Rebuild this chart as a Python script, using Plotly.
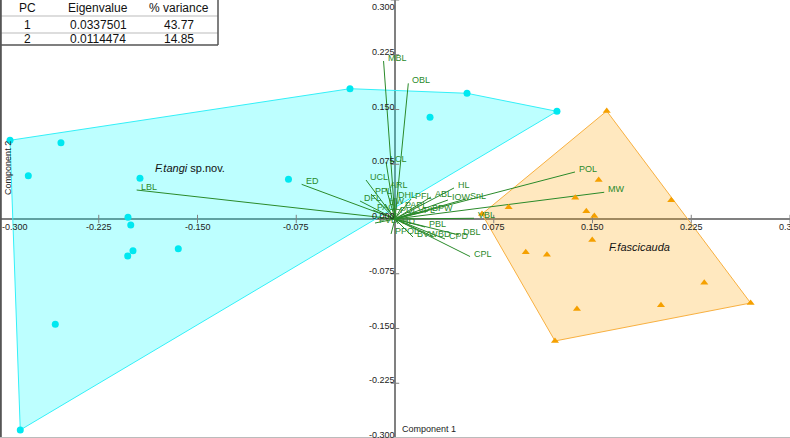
import plotly.graph_objects as go

W, H = 790, 438

# ---- eigenvalue table ----
table_header = ["PC", "Eigenvalue", "% variance"]
pc_rows = ["1", "2"]
eigenvalues = ["0.0337501", "0.0114474"]
pct_variance = ["43.77", "14.85"]

# ---- PCA scores ----
tangi_x = [-0.2924, -0.2537, -0.2785, -0.1937, -0.0809, -0.2028, -0.2007, -0.1990,
           -0.2030, -0.1646, -0.2580, -0.2846, -0.0342, 0.0547, 0.1230, 0.0266]
tangi_y = [0.1078, 0.1045, 0.0593, 0.0558, 0.0544, 0.0023, -0.0082, -0.0434,
           -0.0507, -0.0407, -0.1442, -0.2890, 0.1785, 0.1722, 0.1475, 0.1393]

fasc_x = [0.1608, 0.1547, 0.1369, 0.2098, 0.0863, 0.1453, 0.1514, 0.0661,
          0.1498, 0.0993, 0.1154, 0.2349, 0.1382, 0.2020, 0.2701, 0.1215]
fasc_y = [0.1479, 0.0534, 0.0292, 0.0256, 0.0160, 0.0105, 0.0041, 0.0068,
          -0.0288, -0.0456, -0.0489, -0.0873, -0.1233, -0.1182, -0.1151, -0.1671]

# ---- loadings (biplot vectors) ----
load_names = ["MBL", "OBL", "LCL", "UCL", "ARL", "PPL", "DFL", "HW", "DHL", "PFL",
              "ABL", "IOW", "HL", "SnL", "POL", "MW", "PAPL", "PAOL", "PDL", "VPL",
              "BPW", "VBL", "PVL", "HD", "PBL", "PPOL", "BVW", "BD", "CPD", "DBL",
              "CPL", "ED", "LBL"]
load_x = [-0.0087, 0.0101, -0.0068, -0.0220, -0.0068, -0.0182, -0.0266, -0.0076, -0.0008, 0.0122,
          0.0273, 0.0402, 0.0448, 0.0539, 0.1367, 0.1589, 0.0046, -0.0167, 0.0008, 0.0144,
          0.0251, 0.0600, -0.0152, 0.0023, 0.0228, -0.0030, 0.0137, 0.0296, 0.0380, 0.0487,
          0.0570, -0.0709, -0.1962]
load_y = [0.2164, 0.1858, 0.0781, 0.0534, 0.0425, 0.0342, 0.0247, 0.0205, 0.0288, 0.0274,
          0.0301, 0.0260, 0.0425, 0.0274, 0.0644, 0.0366, 0.0151, 0.0123, 0.0082, 0.0082,
          0.0110, 0.0010, -0.0055, -0.0068, -0.0110, -0.0205, -0.0247, -0.0247, -0.0274, -0.0219,
          -0.0514, 0.0475, 0.0397]

ticks = [-0.3, -0.225, -0.15, -0.075, 0.0, 0.075, 0.15, 0.225, 0.3]
tick_text = ["-0.300", "-0.225", "-0.150", "-0.075", "0.000", "0.075", "0.150", "0.225", "0.300"]

group_names = ["<i>F.tangi</i> sp.nov.", "<i>F.fascicauda</i>"]
group_label_pos = [(-0.1838, 0.0699), (0.1608, -0.0379)]

CYAN = "#00E8F0"
ORANGE = "#F5A000"
GREEN = "#2A8A2A"
AXIS = "#808080"
FONT = "Liberation Sans, Arial, sans-serif"


def convex_hull(xs, ys):
    pts = sorted(set(zip(xs, ys)))

    def cross(o, a, b):
        return (a[0] - o[0]) * (b[1] - o[1]) - (a[1] - o[1]) * (b[0] - o[0])

    lower, upper = [], []
    for p in pts:
        while len(lower) >= 2 and cross(lower[-2], lower[-1], p) <= 0:
            lower.pop()
        lower.append(p)
    for p in reversed(pts):
        while len(upper) >= 2 and cross(upper[-2], upper[-1], p) <= 0:
            upper.pop()
        upper.append(p)
    h = lower[:-1] + upper[:-1]
    h.append(h[0])
    return [p[0] for p in h], [p[1] for p in h]


fig = go.Figure()

# hulls
hx, hy = convex_hull(tangi_x, tangi_y)
fig.add_trace(go.Scatter(x=hx, y=hy, mode="lines", fill="toself",
                         fillcolor="rgba(0,255,255,0.26)",
                         line=dict(color="#33F0F8", width=1), hoverinfo="skip"))
hx, hy = convex_hull(fasc_x, fasc_y)
fig.add_trace(go.Scatter(x=hx, y=hy, mode="lines", fill="toself",
                         fillcolor="rgba(255,165,0,0.25)",
                         line=dict(color="#F8B040", width=1), hoverinfo="skip"))

# axis ticks
fig.add_trace(go.Scatter(x=ticks, y=[0] * len(ticks), mode="markers",
                         marker=dict(symbol="line-ns", size=6,
                                     line=dict(color=AXIS, width=1)), hoverinfo="skip"))
fig.add_trace(go.Scatter(x=[0] * len(ticks), y=ticks, mode="markers",
                         marker=dict(symbol="line-ew", size=6,
                                     line=dict(color=AXIS, width=1)), hoverinfo="skip"))

# loading vectors
vx, vy = [], []
for lx, ly in zip(load_x, load_y):
    vx += [0, lx, None]
    vy += [0, ly, None]
fig.add_trace(go.Scatter(x=vx, y=vy, mode="lines",
                         line=dict(color=GREEN, width=1), hoverinfo="skip"))

# points
fig.add_trace(go.Scatter(x=tangi_x, y=tangi_y, mode="markers",
                         marker=dict(symbol="circle", size=7, color=CYAN)))
fig.add_trace(go.Scatter(x=fasc_x, y=fasc_y, mode="markers",
                         marker=dict(symbol="triangle-up", size=7, color=ORANGE)))

ann = []
# loading labels
for n, lx, ly in zip(load_names, load_x, load_y):
    ann.append(dict(x=lx, y=ly, xref="x", yref="y", text=n, showarrow=False,
                    xanchor="left", yanchor="middle", xshift=2, yshift=3,
                    font=dict(family=FONT, size=9, color=GREEN)))

# tick labels
for i, (t, s) in enumerate(zip(ticks, tick_text)):
    if t != 0:
        ann.append(dict(x=t, y=0, xref="x", yref="y", text=s, showarrow=False,
                        xanchor="left" if i == 0 else "center", yanchor="middle",
                        yshift=-8, font=dict(family=FONT, size=9, color="#222")))
    ann.append(dict(x=0, y=t, xref="x", yref="y", text=s, showarrow=False,
                    xanchor="right", yanchor="top" if i == len(ticks) - 1 else "middle",
                    xshift=2, yshift=0 if i == len(ticks) - 1 else 3,
                    font=dict(family=FONT, size=9, color="#222")))

# axis titles
ann.append(dict(x=0, y=-0.3, xref="x", yref="y", text="Component 1", showarrow=False,
                xanchor="left", yanchor="bottom", xshift=5, yshift=2,
                font=dict(family=FONT, size=9, color="#222")))
ann.append(dict(x=-0.3, y=0.07, xref="x", yref="y", text="Component 2", showarrow=False,
                xanchor="left", yanchor="middle", xshift=1, textangle=-90,
                font=dict(family=FONT, size=9, color="#222")))

# group labels
for name, (gx, gy) in zip(group_names, group_label_pos):
    ann.append(dict(x=gx, y=gy, xref="x", yref="y", text=name, showarrow=False,
                    xanchor="left", yanchor="middle",
                    font=dict(family=FONT, size=11, color="#111")))


def px(xp):
    return xp / W


def py(yp):
    return 1 - yp / H


shapes = []
# table box
shapes.append(dict(type="rect", xref="paper", yref="paper", x0=px(0), x1=px(218),
                   y0=py(45), y1=py(0), fillcolor="white", line=dict(width=0), layer="above"))
for yy in (16, 33):
    shapes.append(dict(type="line", xref="paper", yref="paper", x0=px(0), x1=px(218),
                       y0=py(yy), y1=py(yy), line=dict(color="#BBBBBB", width=1), layer="above"))
shapes.append(dict(type="line", xref="paper", yref="paper", x0=px(0), x1=px(218),
                   y0=py(45), y1=py(45), line=dict(color="#555555", width=1.5), layer="above"))
shapes.append(dict(type="line", xref="paper", yref="paper", x0=px(218), x1=px(218),
                   y0=py(45), y1=py(0), line=dict(color="#555555", width=1.5), layer="above"))
# outer frame
shapes.append(dict(type="line", xref="paper", yref="paper", x0=px(0.8), x1=px(0.8),
                   y0=0, y1=1, line=dict(color="#555555", width=2), layer="above"))
shapes.append(dict(type="line", xref="paper", yref="paper", x0=0, x1=1,
                   y0=py(437.5), y1=py(437.5), line=dict(color="#BBBBBB", width=1), layer="above"))

col_x = [27, 98, 179]
row_y = [8, 25, 39]
rows = [table_header] + [[p, e, v] for p, e, v in zip(pc_rows, eigenvalues, pct_variance)]
for r, row in enumerate(rows):
    for c, cell in enumerate(row):
        ann.append(dict(x=px(col_x[c]), y=py(row_y[r]), xref="paper", yref="paper",
                        text=cell, showarrow=False, xanchor="center", yanchor="middle",
                        font=dict(family=FONT, size=12, color="#111")))

fig.update_layout(
    width=W, height=H, margin=dict(l=0, r=0, t=0, b=0),
    paper_bgcolor="white", plot_bgcolor="white", showlegend=False,
    xaxis=dict(range=[-0.3, 0.3], showgrid=False, showticklabels=False, ticks="",
               zeroline=True, zerolinecolor=AXIS, zerolinewidth=2, fixedrange=True),
    yaxis=dict(range=[-0.3, 0.3], showgrid=False, showticklabels=False, ticks="",
               zeroline=True, zerolinecolor=AXIS, zerolinewidth=2, fixedrange=True),
    annotations=ann, shapes=shapes,
)

fig.write_html("out.html")
